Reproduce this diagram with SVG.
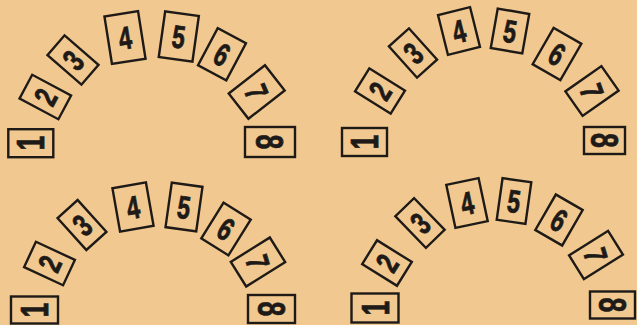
<svg xmlns="http://www.w3.org/2000/svg" width="637" height="325" viewBox="0 0 637 325">
<style>
rect.card{fill:none;stroke:#1e1a17;stroke-width:2.4}
text{font-family:"Liberation Sans",Arial,sans-serif;font-weight:bold;font-size:32px;fill:#1e1a17;stroke:#1e1a17;stroke-width:0.8;text-anchor:middle}
text.big{font-size:38px}
</style>
<rect x="0" y="0" width="637" height="325" fill="#f1c88f"/>
<g id="arch1">
<g id="a1-c1" transform="translate(30.8 143.2) rotate(-90)"><rect class="card" x="-14" y="-22.5" width="28" height="45"/><text class="big" y="13.5" transform="scale(.7 1)">1</text></g>
<g id="a1-c2" transform="translate(45.3 97) rotate(-62)"><rect class="card" x="-13.5" y="-22" width="27" height="44"/><text y="11.5" transform="scale(.72 1)">2</text></g>
<g id="a1-c3" transform="translate(73 60) rotate(-49)"><rect class="card" x="-13" y="-22.5" width="26" height="45"/><text y="11.5" transform="scale(.72 1)">3</text></g>
<g id="a1-c4" transform="translate(125 37.6) rotate(-9)"><rect class="card" x="-17" y="-24" width="34" height="48"/><text y="11.5" transform="scale(.72 1)">4</text></g>
<g id="a1-c5" transform="translate(178.8 36.5) rotate(8)"><rect class="card" x="-17" y="-23" width="34" height="46"/><text y="11.5" transform="scale(.72 1)">5</text></g>
<g id="a1-c6" transform="translate(222 54.3) rotate(28)"><rect class="card" x="-16" y="-21" width="32" height="42"/><text y="11.5" transform="scale(.72 1)">6</text></g>
<g id="a1-c7" transform="translate(256.7 92) rotate(52)"><rect class="card" x="-16" y="-23" width="32" height="46"/><text y="11.5" transform="rotate(15) scale(.72 1)">7</text></g>
<g id="a1-c8" transform="translate(270 142) rotate(90)"><rect class="card" x="-15" y="-25" width="30" height="50"/><text class="big" y="13.5" transform="scale(.7 1)">8</text></g>
</g>
<g id="arch2">
<g id="a2-c1" transform="translate(364.5 142) rotate(-90)"><rect class="card" x="-14" y="-22.5" width="28" height="45"/><text class="big" y="13.5" transform="scale(.7 1)">1</text></g>
<g id="a2-c2" transform="translate(380 91) rotate(-58)"><rect class="card" x="-13.5" y="-21" width="27" height="42"/><text y="11.5" transform="scale(.72 1)">2</text></g>
<g id="a2-c3" transform="translate(413 53) rotate(-42)"><rect class="card" x="-13.5" y="-21" width="27" height="42"/><text y="11.5" transform="scale(.72 1)">3</text></g>
<g id="a2-c4" transform="translate(459 31) rotate(-14)"><rect class="card" x="-16.5" y="-20.5" width="33" height="41"/><text y="11.5" transform="scale(.72 1)">4</text></g>
<g id="a2-c5" transform="translate(510 31) rotate(10)"><rect class="card" x="-16" y="-20" width="32" height="40"/><text y="11.5" transform="scale(.72 1)">5</text></g>
<g id="a2-c6" transform="translate(557 54) rotate(30)"><rect class="card" x="-16" y="-21" width="32" height="42"/><text y="11.5" transform="scale(.72 1)">6</text></g>
<g id="a2-c7" transform="translate(592 91) rotate(55)"><rect class="card" x="-15" y="-22" width="30" height="44"/><text y="11.5" transform="rotate(15) scale(.72 1)">7</text></g>
<g id="a2-c8" transform="translate(604.5 140.5) rotate(90)"><rect class="card" x="-13.5" y="-20.5" width="27" height="41"/><text class="big" y="13.5" transform="scale(.7 1)">8</text></g>
</g>
<g id="arch3">
<g id="a3-c1" transform="translate(34.5 310) rotate(-90)"><rect class="card" x="-13.5" y="-23.5" width="27" height="47"/><text class="big" y="13.5" transform="scale(.7 1)">1</text></g>
<g id="a3-c2" transform="translate(49.5 263.5) rotate(-65)"><rect class="card" x="-14" y="-21.5" width="28" height="43"/><text y="11.5" transform="scale(.72 1)">2</text></g>
<g id="a3-c3" transform="translate(82 225) rotate(-42)"><rect class="card" x="-13.5" y="-21.5" width="27" height="43"/><text y="11.5" transform="scale(.72 1)">3</text></g>
<g id="a3-c4" transform="translate(133 207) rotate(-10)"><rect class="card" x="-17" y="-22" width="34" height="44"/><text y="11.5" transform="scale(.72 1)">4</text></g>
<g id="a3-c5" transform="translate(184 207) rotate(8)"><rect class="card" x="-15.5" y="-22.5" width="31" height="45"/><text y="11.5" transform="scale(.72 1)">5</text></g>
<g id="a3-c6" transform="translate(226 229) rotate(32)"><rect class="card" x="-16" y="-21" width="32" height="42"/><text y="11.5" transform="scale(.72 1)">6</text></g>
<g id="a3-c7" transform="translate(258 262) rotate(58)"><rect class="card" x="-14.5" y="-23" width="29" height="46"/><text y="11.5" transform="rotate(15) scale(.72 1)">7</text></g>
<g id="a3-c8" transform="translate(271.5 309) rotate(90)"><rect class="card" x="-14" y="-23.5" width="28" height="47"/><text class="big" y="13.5" transform="scale(.7 1)">8</text></g>
</g>
<g id="arch4">
<g id="a4-c1" transform="translate(375 308) rotate(-90)"><rect class="card" x="-14.5" y="-23.5" width="29" height="47"/><text class="big" y="13.5" transform="scale(.7 1)">1</text></g>
<g id="a4-c2" transform="translate(387 263) rotate(-58)"><rect class="card" x="-14" y="-20.5" width="28" height="41"/><text y="11.5" transform="scale(.72 1)">2</text></g>
<g id="a4-c3" transform="translate(420 223) rotate(-44)"><rect class="card" x="-13" y="-22" width="26" height="44"/><text y="11.5" transform="scale(.72 1)">3</text></g>
<g id="a4-c4" transform="translate(467 203) rotate(-12)"><rect class="card" x="-16.5" y="-22" width="33" height="44"/><text y="11.5" transform="scale(.72 1)">4</text></g>
<g id="a4-c5" transform="translate(514 201) rotate(8)"><rect class="card" x="-14.5" y="-21" width="29" height="42"/><text y="11.5" transform="scale(.72 1)">5</text></g>
<g id="a4-c6" transform="translate(559 220) rotate(30)"><rect class="card" x="-15.5" y="-20.5" width="31" height="41"/><text y="11.5" transform="scale(.72 1)">6</text></g>
<g id="a4-c7" transform="translate(596 255) rotate(58)"><rect class="card" x="-14" y="-23" width="28" height="46"/><text y="11.5" transform="rotate(15) scale(.72 1)">7</text></g>
<g id="a4-c8" transform="translate(612.5 305) rotate(90)"><rect class="card" x="-13.5" y="-22.5" width="27" height="45"/><text class="big" y="13.5" transform="scale(.7 1)">8</text></g>
</g>
</svg>
